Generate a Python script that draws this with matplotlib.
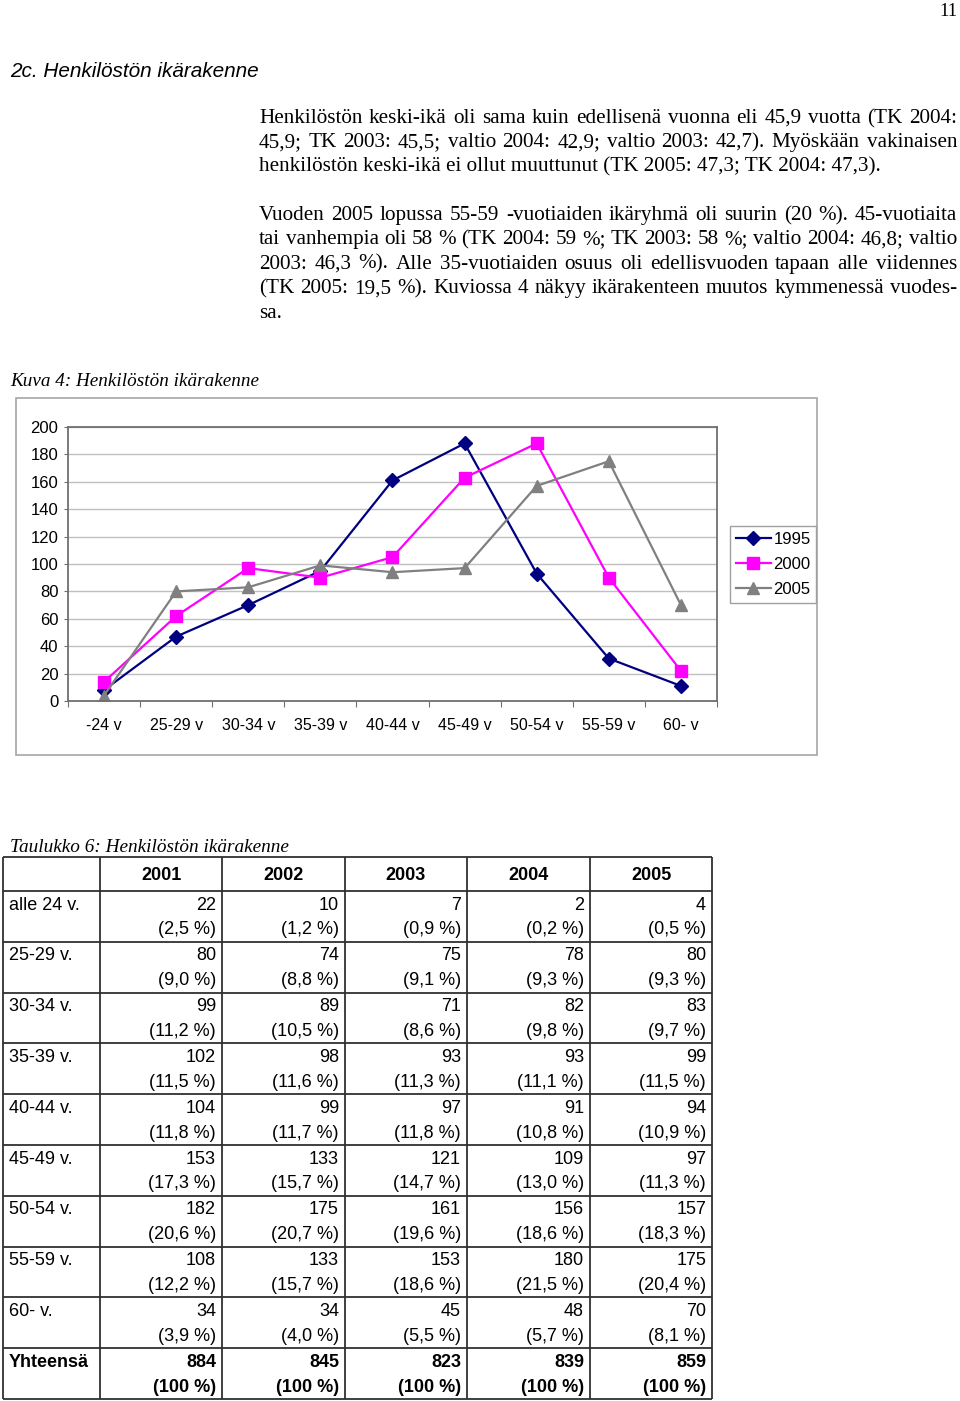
import matplotlib
matplotlib.use('Agg')
import numpy as np
import matplotlib.pyplot as plt
from matplotlib.patches import Rectangle

W, H = 960, 1401

# ==============================
# Data
# ==============================
age_groups = ['-24 v', '25-29 v', '30-34 v', '35-39 v', '40-44 v',
              '45-49 v', '50-54 v', '55-59 v', '60- v']
s1995 = [8, 47, 70, 95, 161, 188, 93, 31, 11]
s2000 = [14, 62, 97, 90, 105, 163, 188, 90, 22]

table_years = ['2001', '2002', '2003', '2004', '2005']
row_labels = ['alle 24 v.', '25-29 v.', '30-34 v.', '35-39 v.', '40-44 v.',
              '45-49 v.', '50-54 v.', '55-59 v.', '60- v.']
counts_2001 = [22, 80, 99, 102, 104, 153, 182, 108, 34]
counts_2002 = [10, 74, 89, 98, 99, 133, 175, 133, 34]
counts_2003 = [7, 75, 71, 93, 97, 121, 161, 153, 45]
counts_2004 = [2, 78, 82, 93, 91, 109, 156, 180, 48]
counts_2005 = [4, 80, 83, 99, 94, 97, 157, 175, 70]
pct_2001 = [2.5, 9.0, 11.2, 11.5, 11.8, 17.3, 20.6, 12.2, 3.9]
pct_2002 = [1.2, 8.8, 10.5, 11.6, 11.7, 15.7, 20.7, 15.7, 4.0]
pct_2003 = [0.9, 9.1, 8.6, 11.3, 11.8, 14.7, 19.6, 18.6, 5.5]
pct_2004 = [0.2, 9.3, 9.8, 11.1, 10.8, 13.0, 18.6, 21.5, 5.7]
pct_2005 = [0.5, 9.3, 9.7, 11.5, 10.9, 11.3, 18.3, 20.4, 8.1]
totals = [884, 845, 823, 839, 859]
total_label = 'Yhteensä'

heading = '2c. Henkilöstön ikärakenne'
figure_caption = 'Kuva 4: Henkilöstön ikärakenne'
table_caption = 'Taulukko 6: Henkilöstön ikärakenne'
page_number = '11'

# (text, justified?)
para1 = [
    ('Henkilöstön keski-ikä oli sama kuin edellisenä vuonna eli 45,9 vuotta (TK 2004:', True),
    ('45,9; TK 2003: 45,5; valtio 2004: 42,9; valtio 2003: 42,7). Myöskään vakinaisen', True),
    ('henkilöstön keski-ikä ei ollut muuttunut (TK 2005: 47,3; TK 2004: 47,3).', False),
]
para2 = [
    ('Vuoden 2005 lopussa 55-59 -vuotiaiden ikäryhmä oli suurin (20 %). 45-vuotiaita', True),
    ('tai vanhempia oli 58 % (TK 2004: 59 %; TK 2003: 58 %; valtio 2004: 46,8; valtio', True),
    ('2003: 46,3 %). Alle 35-vuotiaiden osuus oli edellisvuoden tapaan alle viidennes', True),
    ('(TK 2005: 19,5 %). Kuviossa 4 näkyy ikärakenteen muutos kymmenessä vuodes-', True),
    ('sa.', False),
]

SERIF = ['Liberation Serif', 'DejaVu Serif']
SANS = ['Liberation Sans', 'DejaVu Sans']

# ==============================
# Page
# ==============================
fig = plt.figure(figsize=(W / 100, H / 100), dpi=100)
page = fig.add_axes([0, 0, 1, 1])
page.set_xlim(0, W)
page.set_ylim(H, 0)
page.axis('off')
renderer = fig.canvas.get_renderer()


def text_width(s, **kw):
    t = page.text(0, 0, s, **kw)
    w = t.get_window_extent(renderer=renderer).width
    t.remove()
    return w


def fit_size(s, target, **kw):
    return 10 * target / text_width(s, fontsize=10, **kw)


def justified(x0, x1, y, line, size, **kw):
    words = line.split(' ')
    widths = [text_width(w, fontsize=size, **kw) for w in words]
    gap = (x1 - x0 - sum(widths)) / (len(words) - 1)
    x = x0
    for w, ww in zip(words, widths):
        page.text(x, y, w, fontsize=size, ha='left', va='baseline', **kw)
        x += ww + gap


# page number + heading
page.text(957, 16, page_number, fontsize=fit_size(page_number, 18, family=SERIF),
          family=SERIF, ha='right', va='baseline')
page.text(10, 77, heading, family=SANS, style='italic',
          fontsize=fit_size(heading, 250, family=SANS, style='italic'),
          ha='left', va='baseline')

# body paragraphs
X0, X1 = 259, 957
body_size = min(fit_size(s, 694, family=SERIF) for s, j in para1 + para2 if j)
for lines, y0 in [(para1, 123), (para2, 220)]:
    for i, (s, just) in enumerate(lines):
        y = y0 + i * 24.4
        if just:
            justified(X0, X1, y, s, body_size, family=SERIF)
        else:
            page.text(X0, y, s, fontsize=body_size, family=SERIF, ha='left', va='baseline')

# captions
page.text(10, 386, figure_caption, family=SERIF, style='italic',
          fontsize=fit_size(figure_caption, 249, family=SERIF, style='italic'), va='baseline')
page.text(10, 852, table_caption, family=SERIF, style='italic',
          fontsize=fit_size(table_caption, 280, family=SERIF, style='italic'), va='baseline')

# ==============================
# Chart
# ==============================
page.add_patch(Rectangle((16, 398), 801, 357, fill=False, ec='#a6a6a6', lw=1.2))

ax = fig.add_axes([68 / W, 1 - 701 / H, (717 - 68) / W, (701 - 427) / H])
x = np.arange(len(age_groups))
ax.plot(x, s1995, color='#000080', marker='D', ms=7, lw=1.6, label='1995')
ax.plot(x, s2000, color='#ff00ff', marker='s', ms=8, lw=1.6, label='2000')
ax.plot(x, counts_2005, color='#808080', marker='^', ms=9, lw=1.6, label='2005')

ax.set_xlim(-0.5, len(age_groups) - 0.5)
ax.set_ylim(0, 200)
ax.set_yticks(range(0, 201, 20))
ax.grid(axis='y', color='#c0c0c0', lw=1)
ax.set_axisbelow(True)
for sp in ax.spines.values():
    sp.set_color('#707070')
    sp.set_linewidth(1.3)
ax.set_xticks(np.arange(-0.5, len(age_groups), 1))
ax.set_xticklabels([])
ax.set_xticks(x, minor=True)
ax.set_xticklabels(age_groups, minor=True, family=SANS, fontsize=11.5)
ax.tick_params(axis='x', which='major', length=4, color='#707070')
ax.tick_params(axis='x', which='minor', length=0, pad=12)
ax.tick_params(axis='y', length=3, color='#707070', pad=4, labelsize=12)
for lab in ax.get_yticklabels():
    lab.set_family(SANS)

leg = ax.legend(loc='center left', bbox_to_anchor=(730 / W, 1 - 564.5 / H),
                bbox_transform=fig.transFigure, frameon=True, fancybox=False,
                edgecolor='#a0a0a0', framealpha=1, prop={'family': SANS, 'size': 12},
                handlelength=2.1, borderpad=0.35, labelspacing=0.6,
                handletextpad=0.15, borderaxespad=0)
leg.get_frame().set_linewidth(1)

# ==============================
# Table
# ==============================
col_x = [3, 100, 222, 345, 467, 590, 712]
row_y = [857, 891] + [891 + 50.8 * (i + 1) for i in range(10)]
page.hlines(row_y, col_x[0], col_x[-1], color='#303030', lw=1.3)
page.vlines(col_x, row_y[0], row_y[-1], color='#303030', lw=1.3)

tsize = 13
for j, yr in enumerate(table_years):
    page.text((col_x[j + 1] + col_x[j + 2]) / 2, (row_y[0] + row_y[1]) / 2 + 1, yr,
              family=SANS, fontsize=tsize, fontweight='bold', ha='center', va='center')

counts = [counts_2001, counts_2002, counts_2003, counts_2004, counts_2005]
pcts = [pct_2001, pct_2002, pct_2003, pct_2004, pct_2005]
for i, lab in enumerate(row_labels + [total_label]):
    top = row_y[i + 1]
    bold = 'bold' if lab == total_label else 'normal'
    page.text(9, top + 14, lab, family=SANS, fontsize=tsize, fontweight=bold,
              ha='left', va='center')
    for j in range(len(table_years)):
        if lab == total_label:
            n, p = str(totals[j]), '(100 %)'
        else:
            n = str(counts[j][i])
            p = '(' + f'{pcts[j][i]:.1f}'.replace('.', ',') + ' %)'
        xr = col_x[j + 2] - 6
        page.text(xr, top + 14, n, family=SANS, fontsize=tsize, fontweight=bold,
                  ha='right', va='center')
        page.text(xr, top + 39, p, family=SANS, fontsize=tsize, fontweight=bold,
                  ha='right', va='center')

fig.savefig('out.png', dpi=100)
